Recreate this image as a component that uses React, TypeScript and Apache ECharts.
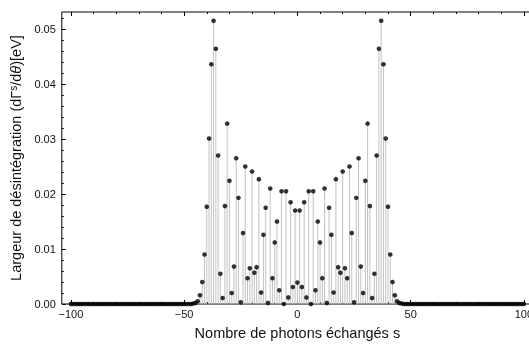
import React, { useEffect, useRef } from "react";
import * as echarts from "echarts";

// Photon number s runs over the integers of this range (DiscretePlot grid)
const S_FIRST = -100;

// Decay width dΓ^s/dθ [eV] for s = -100 … -47
const leftTail = [
  0, 0, 0, 0, 0, 0, 0, 0, 0, 0,
  0, 0, 0, 0, 0, 0, 0, 0, 0, 0,
  0, 0, 0, 0, 0, 0, 0, 0, 0, 0,
  0, 0, 0, 0, 0, 0, 0, 0, 0, 0,
  0, 0, 0, 0, 0, 0, 0, 0, 0, 0,
  0, 0, 0, 0,
];
// s = -46 … 46
const coreWidths = [
  0.0001, 0.0002, 0.0005, 0.0016, 0.004, 0.009, 0.0177, 0.0301, 0.0436, 0.0515,
  0.0464, 0.027, 0.0055, 0.0011, 0.0178, 0.0328, 0.0224, 0.002, 0.0068, 0.0265,
  0.0193, 0.0003, 0.0129, 0.025, 0.0047, 0.0065, 0.0241, 0.0057, 0.0067, 0.0227,
  0.0021, 0.0126, 0.0175, 0.0002, 0.021, 0.0047, 0.0112, 0.015, 0.0025, 0.0205,
  0.0, 0.0205, 0.0012, 0.0185, 0.0031, 0.017, 0.0039,
  0.017, 0.0031, 0.0185, 0.0012, 0.0205, 0.0,
  0.0205, 0.0025, 0.015, 0.0112, 0.0047, 0.021, 0.0002, 0.0175, 0.0126, 0.0021,
  0.0227, 0.0067, 0.0057, 0.0241, 0.0065, 0.0047, 0.025, 0.0129, 0.0003, 0.0193,
  0.0265, 0.0068, 0.002, 0.0224, 0.0328, 0.0178, 0.0011, 0.0055, 0.027, 0.0464,
  0.0515, 0.0436, 0.0301, 0.0177, 0.009, 0.004, 0.0016, 0.0005, 0.0002, 0.0001,
];
// s = 47 … 100
const rightTail = [
  0, 0, 0, 0, 0, 0, 0, 0, 0, 0,
  0, 0, 0, 0, 0, 0, 0, 0, 0, 0,
  0, 0, 0, 0, 0, 0, 0, 0, 0, 0,
  0, 0, 0, 0, 0, 0, 0, 0, 0, 0,
  0, 0, 0, 0, 0, 0, 0, 0, 0, 0,
  0, 0, 0, 0,
];

const xMajorTicks = [-100, -50, 0, 50, 100];
const xMinorTicks = [-90, -80, -70, -60, -40, -30, -20, -10, 10, 20, 30, 40, 60, 70, 80, 90];
const yMajorTicks = [0, 0.01, 0.02, 0.03, 0.04, 0.05];
const yMinorTicks = [
  0.002, 0.004, 0.006, 0.008, 0.012, 0.014, 0.016, 0.018, 0.022, 0.024, 0.026, 0.028,
  0.032, 0.034, 0.036, 0.038, 0.042, 0.044, 0.046, 0.048, 0.052,
];

const X_MIN = -104;
const X_MAX = 104;
const Y_MIN = 0;
const Y_MAX = 0.0531;

const FONT = "Liberation Sans";

export default function App() {
  const ref = useRef<HTMLDivElement>(null);

  useEffect(() => {
    if (!ref.current) return;
    const chart = echarts.init(ref.current, undefined, { renderer: "svg" });
    const widths = [...leftTail, ...coreWidths, ...rightTail];
    const points = widths.map((v, i) => [S_FIRST + i, v]);

    const baseX = {
      type: "value",
      min: X_MIN,
      max: X_MAX,
      axisLine: { show: false, onZero: false },
      splitLine: { show: false },
    };
    const baseY = {
      type: "value",
      min: Y_MIN,
      max: Y_MAX,
      axisLine: { show: false, onZero: false },
      splitLine: { show: false },
    };

    chart.setOption({
      animation: false,
      grid: {
        left: 58,
        top: 12,
        right: 2,
        bottom: 39.3,
        show: true,
        borderColor: "#000",
        borderWidth: 1,
        backgroundColor: "transparent",
      },
      xAxis: [
        {
          ...baseX,
          position: "bottom",
          name: "Nombre de photons échangés s",
          nameLocation: "middle",
          nameGap: 21,
          nameTextStyle: { fontFamily: FONT, fontSize: 14.5, color: "#111" },
          axisTick: {
            show: true,
            inside: true,
            length: 4,
            customValues: xMajorTicks,
            lineStyle: { color: "#000", width: 1 },
          },
          axisLabel: {
            show: true,
            customValues: xMajorTicks,
            margin: 4,
            fontFamily: FONT,
            fontSize: 11,
            color: "#111",
            formatter: (v: number) => String(v).replace("-", "\u2212"),
          },
        },
        {
          ...baseX,
          position: "bottom",
          axisTick: {
            show: true,
            inside: true,
            length: 2,
            customValues: xMinorTicks,
            lineStyle: { color: "#000", width: 1 },
          },
          axisLabel: { show: false },
        },
        {
          ...baseX,
          position: "top",
          axisTick: {
            show: true,
            inside: true,
            length: 4,
            customValues: xMajorTicks,
            lineStyle: { color: "#000", width: 1 },
          },
          axisLabel: { show: false },
        },
        {
          ...baseX,
          position: "top",
          axisTick: {
            show: true,
            inside: true,
            length: 2,
            customValues: xMinorTicks,
            lineStyle: { color: "#000", width: 1 },
          },
          axisLabel: { show: false },
        },
      ],
      yAxis: [
        {
          ...baseY,
          position: "left",
          name: "{n|Largeur de désintégration (dΓ}{s|s}{n|/d}{t|θ}{n|)[eV]}",
          nameLocation: "middle",
          nameGap: 31,
          nameRotate: 90,
          nameTextStyle: {
            fontFamily: FONT,
            fontSize: 14.5,
            color: "#111",
            rich: {
              n: { fontFamily: FONT, fontSize: 14.5, color: "#111" },
              s: { fontFamily: FONT, fontSize: 10, color: "#111", verticalAlign: "top", padding: [0, 0, 6, 0] },
              t: { fontFamily: FONT, fontSize: 14.5, color: "#111", fontStyle: "italic" },
            },
          },
          axisTick: {
            show: true,
            inside: true,
            length: 4,
            customValues: yMajorTicks,
            lineStyle: { color: "#000", width: 1 },
          },
          axisLabel: {
            show: true,
            customValues: yMajorTicks,
            margin: 6,
            fontFamily: FONT,
            fontSize: 11,
            color: "#111",
            formatter: (v: number) => v.toFixed(2),
          },
        },
        {
          ...baseY,
          position: "left",
          axisTick: {
            show: true,
            inside: true,
            length: 2,
            customValues: yMinorTicks,
            lineStyle: { color: "#000", width: 1 },
          },
          axisLabel: { show: false },
        },
      ],
      series: [
        {
          type: "custom",
          xAxisIndex: 0,
          yAxisIndex: 0,
          clip: false,
          encode: { x: 0, y: 1 },
          data: points,
          renderItem: (params: any, api: any) => {
            const x = api.value(0);
            const y = api.value(1);
            const p0 = api.coord([x, 0]);
            const p1 = api.coord([x, y]);
            return {
              type: "line",
              shape: { x1: p0[0], y1: p0[1], x2: p1[0], y2: p1[1] },
              style: { stroke: "#c2c2c2", lineWidth: 1 },
            };
          },
        },
        {
          type: "scatter",
          xAxisIndex: 0,
          yAxisIndex: 0,
          clip: false,
          symbol: "circle",
          symbolSize: 4.6,
          itemStyle: { color: "#000" },
          data: points,
        },
      ],
    });

    return () => chart.dispose();
  }, []);

  return (
    <div
      ref={ref}
      style={{ position: "fixed", left: 0, top: 0, width: 536, height: 345 }}
    />
  );
}
